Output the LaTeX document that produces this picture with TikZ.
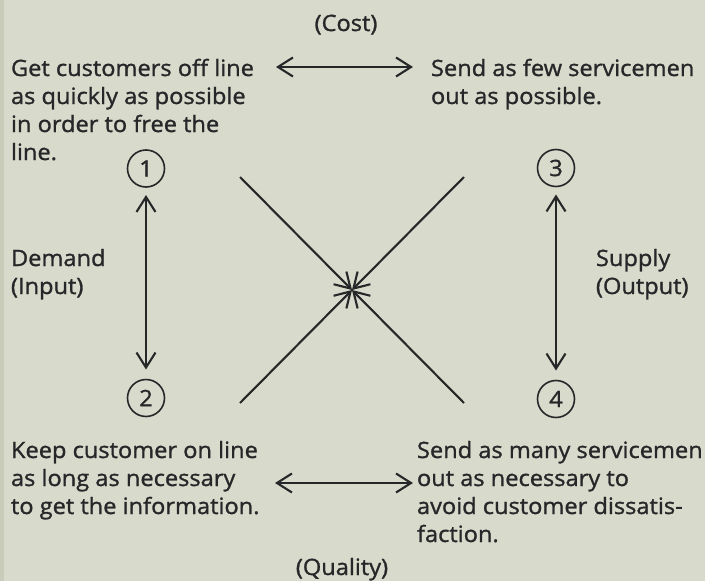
\documentclass[tikz,border=0pt]{standalone}
\usepackage{fontspec}
\setmainfont{Open Sans}[FakeStretch=1.05, FakeBold=1.2]
\usetikzlibrary{arrows.meta}
\definecolor{paper}{HTML}{D8DACC}
\definecolor{paperedge}{HTML}{C9CCBA}
\definecolor{ink}{HTML}{262728}
\newcommand{\textlines}[1]{\vtop{\halign{##\hfil\cr#1\crcr}}}
\begin{document}
\begin{tikzpicture}[x=1pt,y=-1pt,
  every node/.style={inner sep=0pt, outer sep=0pt, text=ink},
  body/.style={font=\fontsize{22.5}{28}\selectfont, anchor=base west},
  heading/.style={font=\fontsize{22.5}{28}\selectfont, anchor=base},
  num/.style={circle, draw=ink, line width=1.6pt, minimum size=37pt,
    font=\fontsize{22.5}{22.5}\selectfont},
  twoway/.style={draw=ink, line width=2.1pt, {Straight Barb[length=15pt,width=19pt]}-{Straight Barb[length=15pt,width=19pt]}},
  inward/.style={draw=ink, line width=2.1pt, -{Straight Barb[length=15pt,width=18pt]}},
]
% paper
\fill[paper] (0,0) rectangle (705,581);
\fill[paperedge] (0,0) rectangle (4,581);
\useasboundingbox (0,0) rectangle (705,581);

% axis labels
\node[heading] (cost) at (346,31) {(Cost)};
\node[heading] (quality) at (342,575) {(Quality)};

% the four goals
\node[body] (goalA) at (11,76) {\textlines{Get customers off line\cr as quickly as possible\cr in order to free the\cr line.}};
\node[body] (goalB) at (431,76) {\textlines{Send as few servicemen\cr out as possible.}};
\node[body] (goalC) at (11,458) {\textlines{Keep customer on line\cr as long as necessary\cr to get the information.}};
\node[body] (goalD) at (417,458) {\textlines{Send as many servicemen\cr out as necessary to\cr avoid customer dissatis-\cr faction.}};

% side labels
\node[body] (demand) at (11,266) {\textlines{Demand\cr (Input)}};
\node[body] (supply) at (596,266) {\textlines{Supply\cr (Output)}};

% numbered corners
\node[num] (n1) at (146,168.5) {1};
\node[num] (n2) at (146,398) {2};
\node[num] (n3) at (556,168) {3};
\node[num] (n4) at (556,399) {4};

% horizontal trade-offs
\coordinate (costL) at (276,67);
\coordinate (costR) at (413,67);
\coordinate (qualL) at (275,483);
\coordinate (qualR) at (413,483);
\draw[twoway] (costL) -- (costR);
\draw[twoway] (qualL) -- (qualR);

% vertical trade-offs
\draw[twoway] ([yshift=-8pt]n1.south) -- ([yshift=10pt]n2.north);
\draw[twoway] ([yshift=-8pt]n3.south) -- ([yshift=10pt]n4.north);

% diagonals meeting in the middle
\coordinate (hub) at (352,290);
\coordinate (dA) at (240,177);
\coordinate (dB) at (464,177);
\coordinate (dC) at (240,403);
\coordinate (dD) at (464,403);
\draw[inward] (dA) -- (hub);
\draw[inward] (dB) -- (hub);
\draw[inward] (dC) -- (hub);
\draw[inward] (dD) -- (hub);
\end{tikzpicture}
\end{document}
